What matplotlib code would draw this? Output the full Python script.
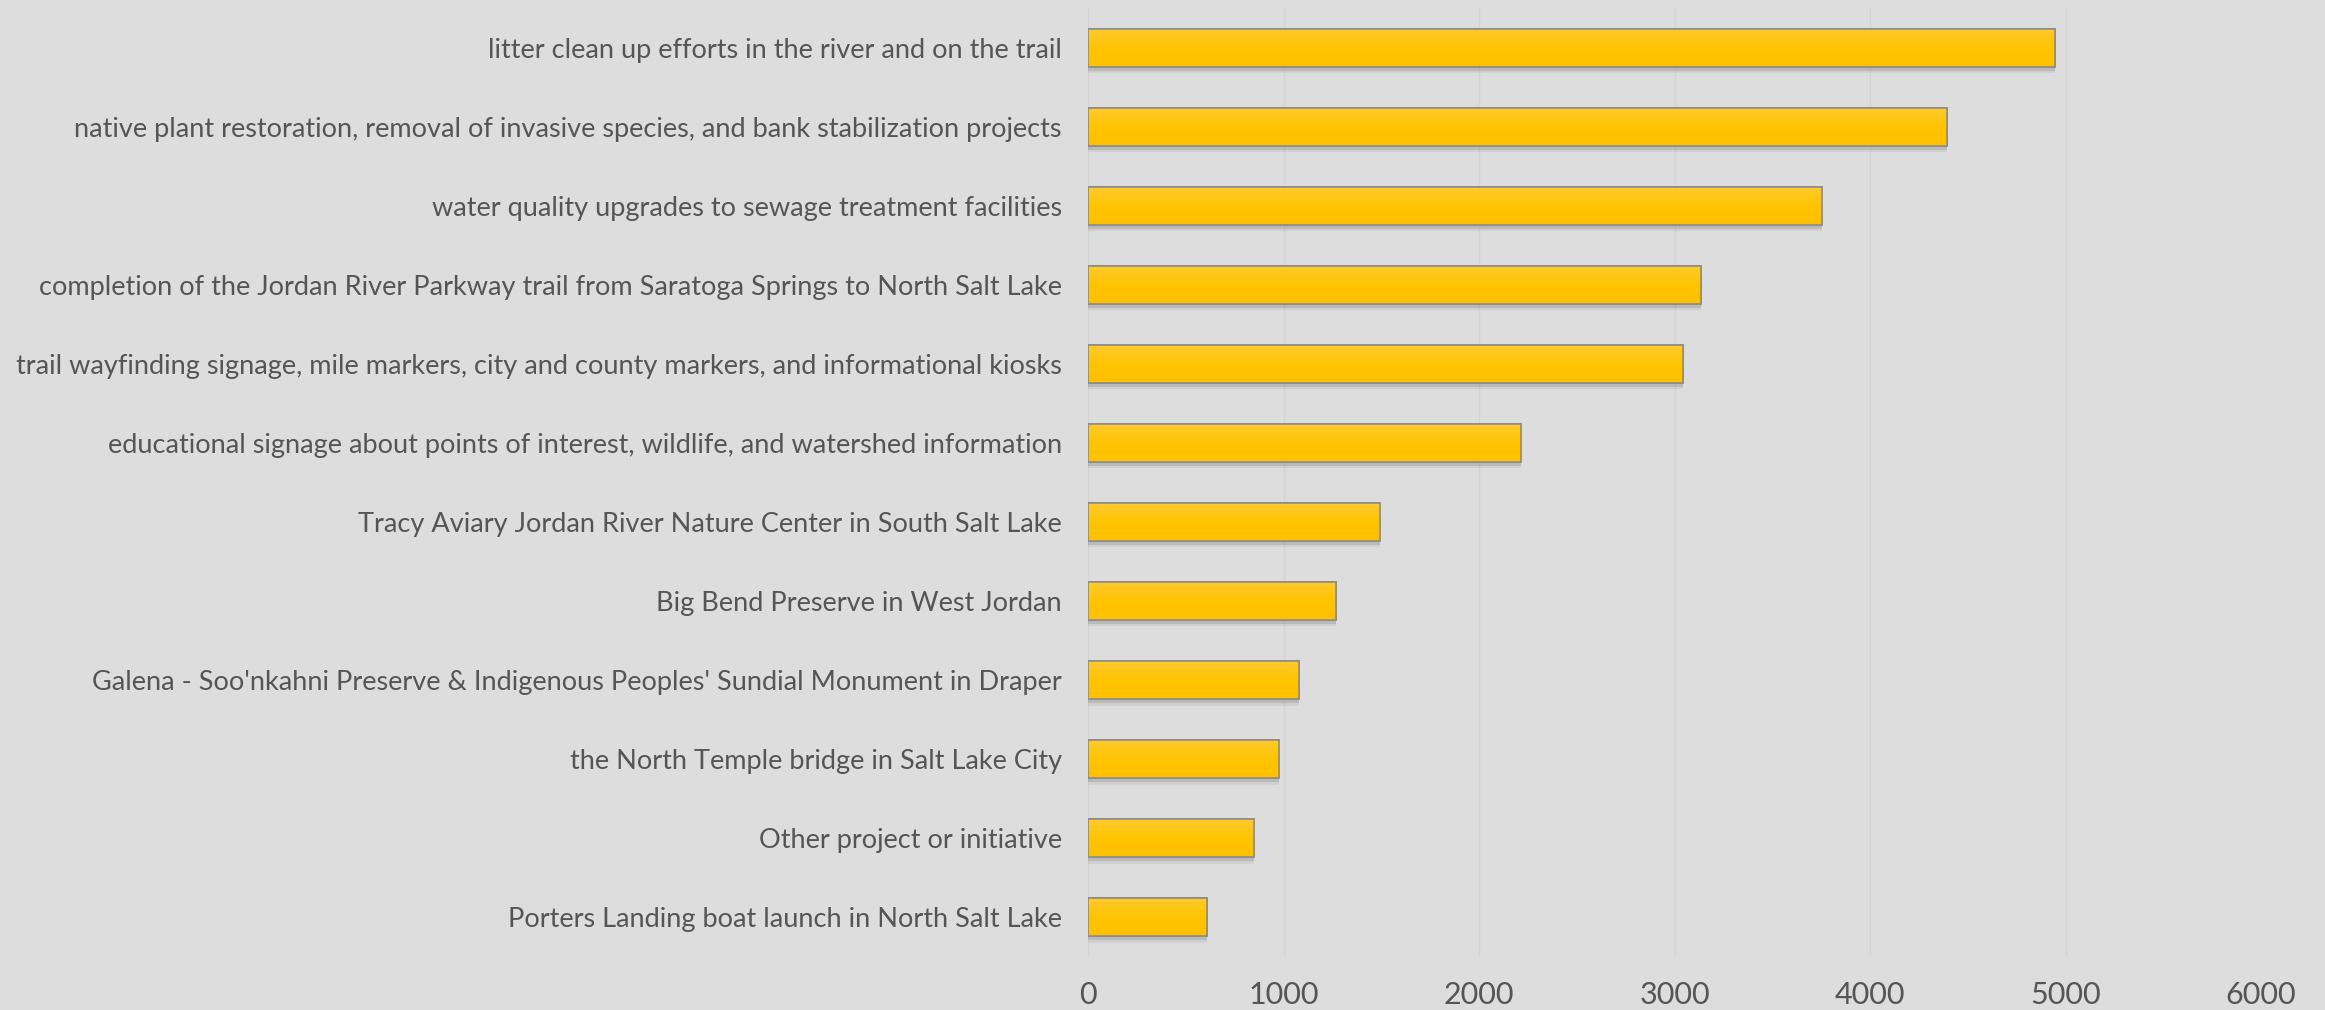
import matplotlib
matplotlib.use("Agg")
import matplotlib.pyplot as plt
import numpy as np
from matplotlib.colors import LinearSegmentedColormap

categories = [
    "litter clean up efforts in the river and on the trail",
    "native plant restoration, removal of invasive species, and bank stabilization projects",
    "water quality upgrades to sewage treatment facilities",
    "completion of the Jordan River Parkway trail from Saratoga Springs to North Salt Lake",
    "trail wayfinding signage, mile markers, city and county markers, and informational kiosks",
    "educational signage about points of interest, wildlife, and watershed information",
    "Tracy Aviary Jordan River Nature Center in South Salt Lake",
    "Big Bend Preserve in West Jordan",
    "Galena - Soo'nkahni Preserve & Indigenous Peoples' Sundial Monument in Draper",
    "the North Temple bridge in Salt Lake City",
    "Other project or initiative",
    "Porters Landing boat launch in North Salt Lake",
]
values = [4945, 4392, 3755, 3133, 3042, 2215, 1494, 1267, 1077, 979, 850, 607]
xticks = [0, 1000, 2000, 3000, 4000, 5000, 6000]

BG = "#dddddd"
TEXT = "#555555"
plt.rcParams['font.family'] = ['Lato', 'DejaVu Sans']

fig = plt.figure(figsize=(23.25, 10.10), dpi=100, facecolor=BG)
ax = fig.add_axes([0.468, 0.0525, 0.5045, 0.9395])
ax.set_facecolor(BG)

y = np.arange(len(categories))
h = 0.48
# shadow
ax.barh(y + 0.05, values, height=h, color="#000000", alpha=0.10, zorder=2, linewidth=0)
ax.barh(y + 0.08, values, height=h, color="#000000", alpha=0.06, zorder=2, linewidth=0)
bars = ax.barh(y, values, height=h, color="#FFC000", edgecolor="#8c8c8c", linewidth=1.2, zorder=3)

cmap = LinearSegmentedColormap.from_list("g", ["#FFCA2E", "#FFC402", "#FFC000"])
grad = np.linspace(0, 1, 100).reshape(-1, 1)
for b in bars:
    x0, y0 = b.get_x(), b.get_y()
    w, hh = b.get_width(), b.get_height()
    im = ax.imshow(grad, extent=[x0, x0 + w, y0 + hh, y0], aspect='auto', cmap=cmap,
                   zorder=3.5, origin='upper')
    im.set_clip_path(b)
    ax.add_patch(plt.Rectangle((x0, y0), w, hh, fill=False, edgecolor="#8c8c8c",
                               linewidth=1.2, zorder=4))

ax.set_xlim(0, 6000)
ax.set_ylim(len(categories) - 0.5, -0.5)
ax.set_xticks(xticks)
ax.set_xticklabels([str(t) for t in xticks])
ax.set_yticks(y)
ax.set_yticklabels(categories)
ax.tick_params(axis='x', length=0, labelsize=22, labelcolor=TEXT, pad=17)
ax.tick_params(axis='y', length=0, labelsize=19.5, labelcolor=TEXT, pad=19)
ax.grid(axis='x', color="#d4d4d4", linewidth=1.0, zorder=0)
ax.set_axisbelow(True)
for s in ax.spines.values():
    s.set_visible(False)

fig.savefig("out.png", dpi=100, facecolor=BG)
